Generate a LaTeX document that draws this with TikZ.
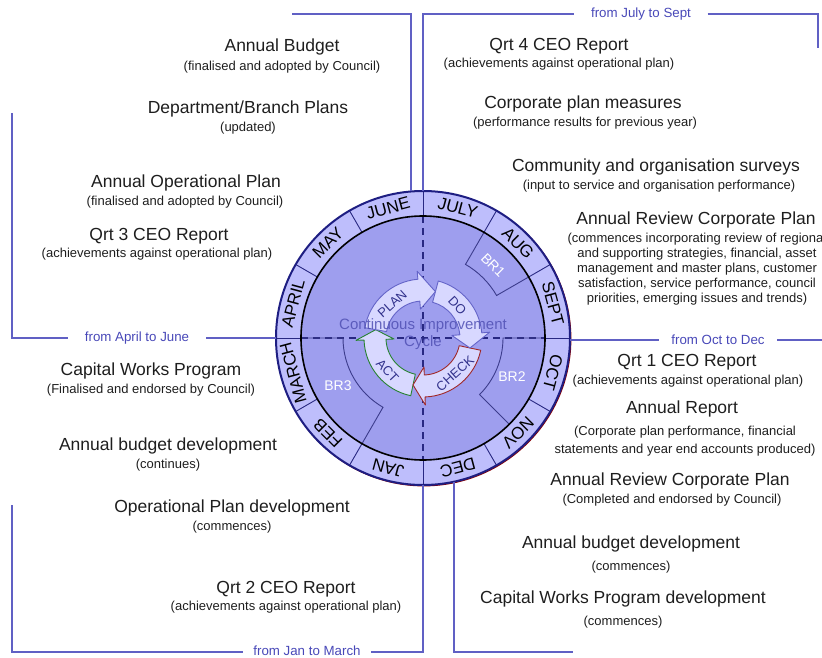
\documentclass[tikz,border=0pt]{standalone}
\usepackage{fontspec}
\setmainfont{Liberation Sans}
\usetikzlibrary{calc}
\definecolor{ringfill}{RGB}{190,190,252}
\definecolor{diskfill}{RGB}{158,158,238}
\definecolor{arrfill}{RGB}{216,216,255}
\definecolor{lineblue}{RGB}{96,96,196}
\definecolor{perblue}{RGB}{72,72,184}
\definecolor{navy}{RGB}{30,30,130}
\definecolor{divblue}{RGB}{40,40,130}
\definecolor{txt}{RGB}{30,30,30}
\definecolor{pdcatxt}{RGB}{50,50,140}
\definecolor{brline}{RGB}{60,60,140}
\definecolor{planline}{RGB}{100,100,200}
\definecolor{checkline}{RGB}{160,40,40}
\definecolor{actline}{RGB}{40,130,50}
\definecolor{citext}{RGB}{80,80,180}
\begin{document}
\begin{tikzpicture}[x=1pt,y=1pt,
  ttl/.style={font=\fontsize{17.5}{20}\selectfont, text=txt, inner sep=0pt},
  subt/.style={font=\fontsize{13}{15}\selectfont, text=txt, inner sep=0pt, align=center},
  perlab/.style={font=\fontsize{13.3}{15}\selectfont, text=perblue, inner ysep=0pt},
  brk/.style={draw=lineblue, line width=1.3pt},
  mlab/.style={font=\fontsize{17}{20}\selectfont, text=black, inner sep=0pt},
  brlab/.style={font=\fontsize{14}{16}\selectfont, text=white, inner sep=0pt},
  pdcalab/.style={font=\fontsize{13}{14}\selectfont, text=pdcatxt, inner sep=0pt},
  pdcaarrow/.style={fill=arrfill, line width=0.9pt, line join=round},
  centrecut/.style={draw=divblue, line width=1.1pt, dash pattern=on 7pt off 5pt},
  brsector/.style={draw=brline, line width=0.9pt},
]
\useasboundingbox (0,0) rectangle (822,657);
\coordinate (c) at (423,319);

% ---------- wheel ----------
\draw[red!55!black, line width=1.2pt] ($(c)+(0.8,-0.8)$) circle (147);
\fill[ringfill] (c) circle (147);
\fill[diskfill] (c) circle (122);
\draw[centrecut] ($(c)+(0,122)$) -- ($(c)+(0,-122)$);
\draw[centrecut] ($(c)+(-122,0)$) -- ($(c)+(122,0)$);
\draw[brsector] ($(c)+(60:122)$) -- ($(c)+(60:85)$) arc[start angle=60, end angle=30, radius=85] -- ($(c)+(30:122)$);
\draw[brsector] ($(c)+(0:122)$) -- ($(c)+(0:80)$) arc[start angle=0, end angle=-45, radius=80] -- ($(c)+(-45:122)$);
\draw[brsector] ($(c)+(180:122)$) -- ($(c)+(180:80)$) arc[start angle=180, end angle=240, radius=80] -- ($(c)+(240:122)$);
\foreach \a in {0,30,...,330}
  \draw[divblue, line width=0.9pt] ($(c)+(\a:122)$) -- ($(c)+(\a:147)$);
\draw[black, line width=1.6pt] (c) circle (122);
\draw[navy, line width=2pt] (c) circle (147);
\foreach \m/\a in {JULY/75, AUG/45, SEPT/15, OCT/-15, NOV/-45, DEC/-75, JAN/-105, FEB/-135, MARCH/-165, APRIL/165, MAY/135, JUNE/105}
  \node[mlab, rotate=\a-90] (m\m) at ($(c)+(\a:134.5)$) {\m};
\node[brlab, rotate=-45] (br1) at ($(c)+(46:101)$) {BR1};
\node[brlab] (br2) at ($(c)+(89,-39)$) {BR2};
\node[brlab] (br3) at ($(c)+(-85,-48)$) {BR3};

% ---------- PDCA cycle ----------
\draw[pdcaarrow, draw=actline] ($(c)+(-102:59)$) arc[start angle=-102, end angle=-178, radius=59] -- ($(c)+(-178:67)$) -- ($(c)+(-190:48)$) -- ($(c)+(-178:29)$) -- ($(c)+(-178:37)$) arc[start angle=-178, end angle=-102, radius=37] -- cycle;
\draw[pdcaarrow, draw=checkline] ($(c)+(-12:59)$) arc[start angle=-12, end angle=-88, radius=59] -- ($(c)+(-88:67)$) -- ($(c)+(-102:48)$) -- ($(c)+(-88:29)$) -- ($(c)+(-88:37)$) arc[start angle=-88, end angle=-12, radius=37] -- cycle;
\draw[pdcaarrow, draw=planline] ($(c)+(75:59)$) arc[start angle=75, end angle=5, radius=59] -- ($(c)+(5:67)$) -- ($(c)+(-12:48)$) -- ($(c)+(5:29)$) -- ($(c)+(5:37)$) arc[start angle=5, end angle=75, radius=37] -- cycle;
\draw[pdcaarrow, draw=planline] ($(c)+(170:59)$) arc[start angle=170, end angle=95, radius=59] -- ($(c)+(95:67)$) -- ($(c)+(75:48)$) -- ($(c)+(95:29)$) -- ($(c)+(95:37)$) arc[start angle=95, end angle=170, radius=37] -- cycle;
\node[pdcalab, rotate=42] (plan) at ($(c)+(132:46)$) {PLAN};
\node[pdcalab, rotate=-47] (do) at ($(c)+(43:47)$) {DO};
\node[pdcalab, rotate=42] (check) at ($(c)+(-48:48)$) {CHECK};
\node[pdcalab, rotate=-47] (act) at ($(c)+(-137:48.5)$) {ACT};
\node[font=\fontsize{15}{17}\selectfont, text=citext, text opacity=0.85, align=center, inner sep=0pt] (cic) at ($(c)+(0,3.5)$) {Continuous Improvement\\Cycle};

% ---------- left texts ----------
\node[ttl] (ab) at (282,610) {Annual Budget};
\node[subt] (abs) at (282,590) {(finalised and adopted by Council)};
\node[ttl] (dbp) at (248,548) {Department/Branch Plans};
\node[subt] (dbps) at (248,529) {(updated)};
\node[ttl] (aop) at (186,474) {Annual Operational Plan};
\node[subt] (aops) at (185,455) {(finalised and adopted by Council)};
\node[ttl] (q3) at (159,421) {Qrt 3 CEO Report};
\node[subt] (q3s) at (157,403) {(achievements against operational plan)};
\node[perlab, inner xsep=17pt] (pAJ) at (137,319) {from April to June};
\node[ttl] (cwp) at (151,286) {Capital Works Program};
\node[subt] (cwps) at (151,267) {(Finalised and endorsed by Council)};
\node[ttl] (abd) at (168,211) {Annual budget development};
\node[subt] (abds) at (168,192) {(continues)};
\node[ttl] (opd) at (232,149) {Operational Plan development};
\node[subt] (opds) at (232,130) {(commences)};
\node[ttl] (q2) at (286,68) {Qrt 2 CEO Report};
\node[subt] (q2s) at (286,50) {(achievements against operational plan)};
\node[perlab, inner xsep=10.5pt] (pJM) at (307,6.5) {from Jan to March};

% ---------- right texts ----------
\node[perlab, inner xsep=16.5pt] (pJS) at (641,643) {from July to Sept};
\node[ttl] (q4) at (559,611) {Qrt 4 CEO Report};
\node[subt] (q4s) at (559,593) {(achievements against operational plan)};
\node[ttl] (cpm) at (583,553) {Corporate plan measures};
\node[subt] (cpms) at (585,534) {(performance results for previous year)};
\node[ttl] (cos) at (656,490) {Community and organisation surveys};
\node[subt] (coss) at (659,471) {(input to service and organisation performance)};
\node[ttl] (arc1) at (696,437) {Annual Review Corporate Plan};
\node[subt] (arc1s) at (697,388) {(commences incorporating review of regional\\ and supporting strategies, financial, asset\\ management and master plans, customer\\ satisfaction, service performance, council\\ priorities, emerging issues and trends)};
\node[perlab, inner xsep=12.5pt] (pOD) at (718,317) {from Oct to Dec};
\node[ttl] (q1) at (687,295) {Qrt 1 CEO Report};
\node[subt] (q1s) at (688,276) {(achievements against operational plan)};
\node[ttl] (ar) at (682,248) {Annual Report};
\node[subt, font=\fontsize{13}{18}\selectfont] (ars) at (685,216) {(Corporate plan performance, financial\\ statements and year end accounts produced)};
\node[ttl] (arc2) at (670,176) {Annual Review Corporate Plan};
\node[subt] (arc2s) at (672,157) {(Completed and endorsed by Council)};
\node[ttl] (abd2) at (631,113) {Annual budget development};
\node[subt] (abd2s) at (631,90) {(commences)};
\node[ttl] (cwpd) at (623,58) {Capital Works Program development};
\node[subt] (cwpds) at (623,35) {(commences)};

% ---------- brackets ----------
\coordinate (tl1) at (292,643);
\coordinate (tl2) at (411,643);
\coordinate (tl3) at (411,465.5);
\draw[brk] (tl1) -- (tl2) -- (tl3);
\coordinate (ml1) at (12,544);
\coordinate (ml2) at (12,319);
\coordinate (wl) at ($(c)+(180:147)$);
\draw[brk] (ml1) -- (ml2) -- (pAJ.west);
\draw[brk] (pAJ.east) -- (wl);
\coordinate (wt) at ($(c)+(90:147)$);
\coordinate (tr1) at (423,643);
\coordinate (tr2) at (818,643);
\coordinate (tr3) at (818,609);
\draw[brk] (wt) -- (tr1) -- (pJS.west);
\draw[brk] (pJS.east) -- (tr2) -- (tr3);
\coordinate (wr) at (570,317);
\coordinate (rr) at (822,317);
\draw[brk] (wr) -- (pOD.west);
\draw[brk] (pOD.east) -- (rr);
\coordinate (bl1) at (12,152);
\coordinate (bl2) at (12,5);
\coordinate (bl3) at (423,5);
\coordinate (wb) at ($(c)+(-90:147)$);
\draw[brk] (bl1) -- (bl2) -- (pJM.west |- bl2);
\draw[brk] (pJM.east |- bl3) -- (bl3) -- (wb);
\coordinate (br1) at (454,175.3);
\coordinate (br2) at (454,5);
\coordinate (br3) at (573,5);
\draw[brk] (br1) -- (br2) -- (br3);
\end{tikzpicture}
\end{document}
